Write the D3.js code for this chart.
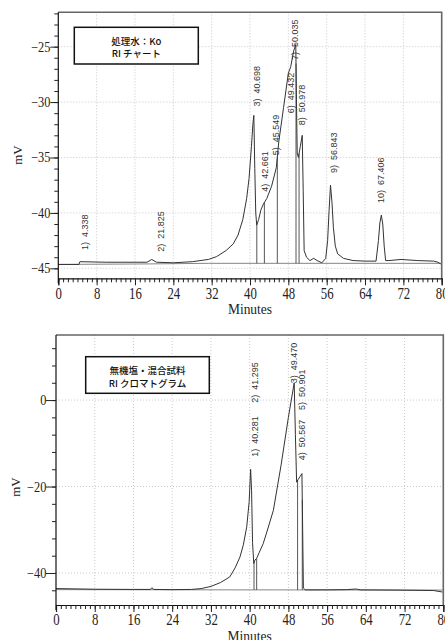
<!DOCTYPE html>
<html><head><meta charset="utf-8">
<script src="https://cdn.jsdelivr.net/npm/d3@7"></script>
<style>
html,body{margin:0;padding:0;background:#fff;}
svg{display:block;}
.lbl{font-family:"Liberation Sans",Arial,sans-serif;font-size:9px;fill:#333;white-space:pre;}
.tick text{font-family:"Liberation Serif","Times New Roman",serif;fill:#222;}
</style></head>
<body>
<svg id="c" width="445" height="640"></svg>
<script>
// ---------- DATA: top chart (処理水：Ko, RI チャート) ----------
const topTitle = ["処理水：Ko", "RI チャート"];
const topSignalT = [0,4.3,4.5,10,18.5,19.5,20.5,24,28,31.3,33,35,36.5,37.5,38.5,39.3,39.8,40.3,40.6,40.8,41.0,41.2,41.4,41.8,42.3,42.8,43.5,44.5,45.5,46.0,47.0,48.0,48.5,49.1,49.55,49.7,49.85,50.1,50.5,50.9,51.1,51.3,51.8,52.5,53.3,54.0,55.0,55.8,56.2,56.5,56.8,57.1,57.4,57.8,58.3,59.5,61.5,64,66.3,66.8,67.1,67.4,67.7,68.0,68.3,69,71.5,75,78.3,79.2,79.8];
const topSignalV = [-44.65,-44.65,-44.4,-44.45,-44.45,-44.2,-44.45,-44.5,-44.4,-44.2,-43.95,-43.4,-42.8,-42.0,-40.6,-38.7,-36.9,-34.0,-32.0,-31.2,-36.0,-40.0,-41.1,-40.6,-39.7,-39.2,-38.7,-37.6,-35.9,-33.6,-30.5,-27.4,-26.8,-25.4,-24.8,-30.0,-34.6,-35.0,-34.0,-33.0,-38.0,-43.4,-44.0,-44.3,-44.1,-44.3,-44.5,-44.1,-42.5,-39.8,-37.5,-39.0,-41.3,-43.0,-43.7,-44.1,-44.3,-44.35,-44.35,-42.5,-40.9,-40.2,-41.0,-43.0,-44.3,-44.3,-44.2,-44.3,-44.35,-44.45,-44.6];
const topBaseT = [0,19,31.3,80];
const topBaseV = [-44.65,-44.6,-44.55,-44.55];
const topDropT = [41.42,43.0,45.7,49.6,50.24];
const topPeakNo = [1,2,3,4,5,6,7,8,9,10];
const topPeakTime = ["4.338","21.825","40.698","42.661","45.549","49.432","50.035","50.978","56.843","67.406"];
const topLabelT = [5.57,21.4,41.4,43.15,45.3,48.5,49.4,50.8,57.4,67.2];
const topLabelV = [-43.35,-43.5,-30.4,-38.1,-34.8,-31.0,-26.2,-32.1,-36.4,-39.1];
const topYMajor = [-45,-40,-35,-30,-25];
const topYMinor = d3.range(-45,-21,1);

// ---------- DATA: bottom chart (無機塩・混合試料, RI クロマトグラム) ----------
const botTitle = ["無機塩・混合試料", "RI クロマトグラム"];
const botSignalT = [0,8,16,19.5,19.8,20.2,24,28,30,32,34,35.9,37,38,38.7,39.4,39.9,40.2,40.4,40.6,40.85,41.1,41.45,42.0,42.8,43.8,44.9,46.5,48.0,49.2,49.45,49.7,50.0,50.4,50.8,50.95,51.1,51.5,56,60,62,62.8,70,78,79.8];
const botSignalV = [-43.6,-43.75,-43.8,-43.8,-43.4,-43.8,-43.85,-43.8,-43.6,-43.1,-42.2,-40.9,-38.8,-36.3,-33.5,-29.3,-23.5,-16.0,-21.0,-33.0,-37.8,-37.0,-36.6,-35.2,-33.2,-29.6,-25.5,-15.0,-4.0,4.0,-8.0,-19.0,-18.4,-17.7,-17.0,-30.0,-43.5,-43.9,-43.9,-43.85,-43.7,-43.9,-43.95,-44.05,-44.4];
const botBaseT = [0,80];
const botBaseV = [-43.85,-43.95];
const botDropT = [40.9,41.45,49.9,50.87];
const botPeakNo = [1,2,3,4,5];
const botPeakTime = ["40.281","41.295","49.470","50.567","50.901"];
const botLabelT = [41.1,41.1,49.1,50.75,50.75];
const botLabelV = [-13.1,-0.6,3.9,-13.9,-2.3];
const botYMajor = [-40,-20,0];
const botYMinor = d3.range(-44,15,4);

const xMajor = d3.range(0,81,8);
const xMinor = d3.range(0,81,1);

const svg = d3.select("#c");

function interp(ts, vs, t){
  for(let i=1;i<ts.length;i++){
    if(t<=ts[i]){const f=(t-ts[i-1])/(ts[i]-ts[i-1]);return vs[i-1]+f*(vs[i]-vs[i-1]);}
  }
  return vs[vs.length-1];
}

function panel(o){
  const x = d3.scaleLinear().domain([0,80]).range([o.x0,o.x1]);
  const y = d3.scaleLinear().domain(o.yDom).range([o.y0,o.y1]);
  const g = svg.append("g");
  // grid
  g.append("g").selectAll("line").data(xMajor.slice(1,-1)).join("line")
    .attr("x1",d=>x(d)).attr("x2",d=>x(d)).attr("y1",o.y1).attr("y2",o.y0)
    .attr("stroke","#bbb").attr("stroke-width",0.8).attr("stroke-dasharray","1,2");
  g.append("g").selectAll("line").data(o.yMajor).join("line")
    .attr("x1",o.x0).attr("x2",o.x1).attr("y1",d=>y(d)).attr("y2",d=>y(d))
    .attr("stroke","#bbb").attr("stroke-width",0.8).attr("stroke-dasharray","1,2");
  // frame top/right
  g.append("path").attr("d",`M${o.x0},${o.y1}H${o.x1}V${o.y0}`)
    .attr("fill","none").attr("stroke","#666").attr("stroke-width",1.6);
  // baseline
  const line = d3.line().x(d=>x(d[0])).y(d=>y(d[1]));
  g.append("path").datum(o.baseT.map((t,i)=>[t,o.baseV[i]]))
    .attr("d",line).attr("fill","none").attr("stroke","#777").attr("stroke-width",0.9);
  // drop lines
  g.append("g").selectAll("line").data(o.dropT).join("line")
    .attr("x1",d=>x(d)).attr("x2",d=>x(d))
    .attr("y1",d=>y(interp(o.baseT,o.baseV,d))).attr("y2",d=>y(interp(o.sigT,o.sigV,d)))
    .attr("stroke","#444").attr("stroke-width",0.9);
  // signal
  g.append("path").datum(o.sigT.map((t,i)=>[t,o.sigV[i]]))
    .attr("d",line).attr("fill","none").attr("stroke","#333").attr("stroke-width",1);
  // peak labels
  g.append("g").selectAll("text").data(o.peakNo).join("text")
    .attr("class","lbl")
    .attr("transform",(d,i)=>`translate(${x(o.labT[i])},${y(o.labV[i])}) rotate(-90)`)
    .attr("dy","0.35em")
    .text((d,i)=>`${d})\u00a0\u00a0${o.peakTime[i]}`);
  // axes
  const xa = g.append("g").attr("transform",`translate(0,${o.y0})`)
    .call(d3.axisBottom(x).tickValues(xMajor).tickSize(7).tickPadding(2).tickFormat(d3.format("d")));
  xa.selectAll("text").attr("font-size",16).attr("transform","scale(0.8,1)");
  const xm = g.append("g").attr("transform",`translate(0,${o.y0})`)
    .call(d3.axisBottom(x).tickValues(xMinor).tickSize(4).tickFormat(""));
  xm.select(".domain").remove();
  const ya = g.append("g").attr("transform",`translate(${o.x0},0)`)
    .call(d3.axisLeft(y).tickValues(o.yMajor).tickSize(o.majLen).tickPadding(1).tickFormat(d3.format("d")));
  ya.selectAll("text").attr("font-size",14).attr("transform","scale(0.88,1)");
  ya.select(".domain").attr("d",`M0,${o.y1}V${o.y0+5}`);
  const ym = g.append("g").attr("transform",`translate(${o.x0},0)`)
    .call(d3.axisLeft(y).tickValues(o.yMinor).tickSize(4).tickFormat(""));
  ym.select(".domain").remove();
  g.selectAll(".domain").attr("stroke","#111").attr("stroke-width",1.2);
  g.selectAll(".tick line").attr("stroke","#222");
  // axis titles
  g.append("text").attr("transform",`translate(${(o.x0+o.x1)/2},${o.y0+36}) scale(0.9,1)`)
    .attr("text-anchor","middle").attr("font-family","Liberation Serif,serif").attr("font-size",15).attr("fill","#222")
    .text("Minutes");
  g.append("text").attr("transform",`translate(${o.mvX},${o.mvY}) rotate(-90)`)
    .attr("text-anchor","middle").attr("dy","0.35em").attr("font-family","Liberation Serif,serif").attr("font-size",13).attr("fill","#222")
    .text("mV");
  // title box
  const bx = g.append("g");
  bx.append("rect").attr("x",o.box[0]).attr("y",o.box[1]).attr("width",o.box[2]).attr("height",o.box[3])
    .attr("fill","#fff").attr("stroke","#111").attr("stroke-width",1.5);
  bx.selectAll("text").data(o.title).join("text")
    .attr("x",o.box[0]+o.box[2]/2).attr("y",(d,i)=>o.box[1]+17.5+i*12.5)
    .attr("text-anchor","middle").attr("font-family","Noto Sans CJK JP,sans-serif")
    .attr("font-size",9.5).attr("font-weight",500).attr("fill","#111").text(d=>d);
}

panel({x0:58.3,x1:441.7,y0:278.3,y1:12.3,yDom:[-45.9,-21.9],
  sigT:topSignalT,sigV:topSignalV,baseT:topBaseT,baseV:topBaseV,dropT:topDropT,
  peakNo:topPeakNo,peakTime:topPeakTime,labT:topLabelT,labV:topLabelV,
  yMajor:topYMajor,yMinor:topYMinor,majLen:8,mvX:17.5,mvY:155,
  box:[74.3,27.3,124,36.7],title:topTitle});

panel({x0:56,x1:443.3,y0:605,y1:335,yDom:[-47.4,15.05],
  sigT:botSignalT,sigV:botSignalV,baseT:botBaseT,baseV:botBaseV,dropT:botDropT,
  peakNo:botPeakNo,peakTime:botPeakTime,labT:botLabelT,labV:botLabelV,
  yMajor:botYMajor,yMinor:botYMinor,majLen:10,mvX:15,mvY:487,
  box:[85.7,356.7,123.6,36.6],title:botTitle});
</script>
</body></html>
